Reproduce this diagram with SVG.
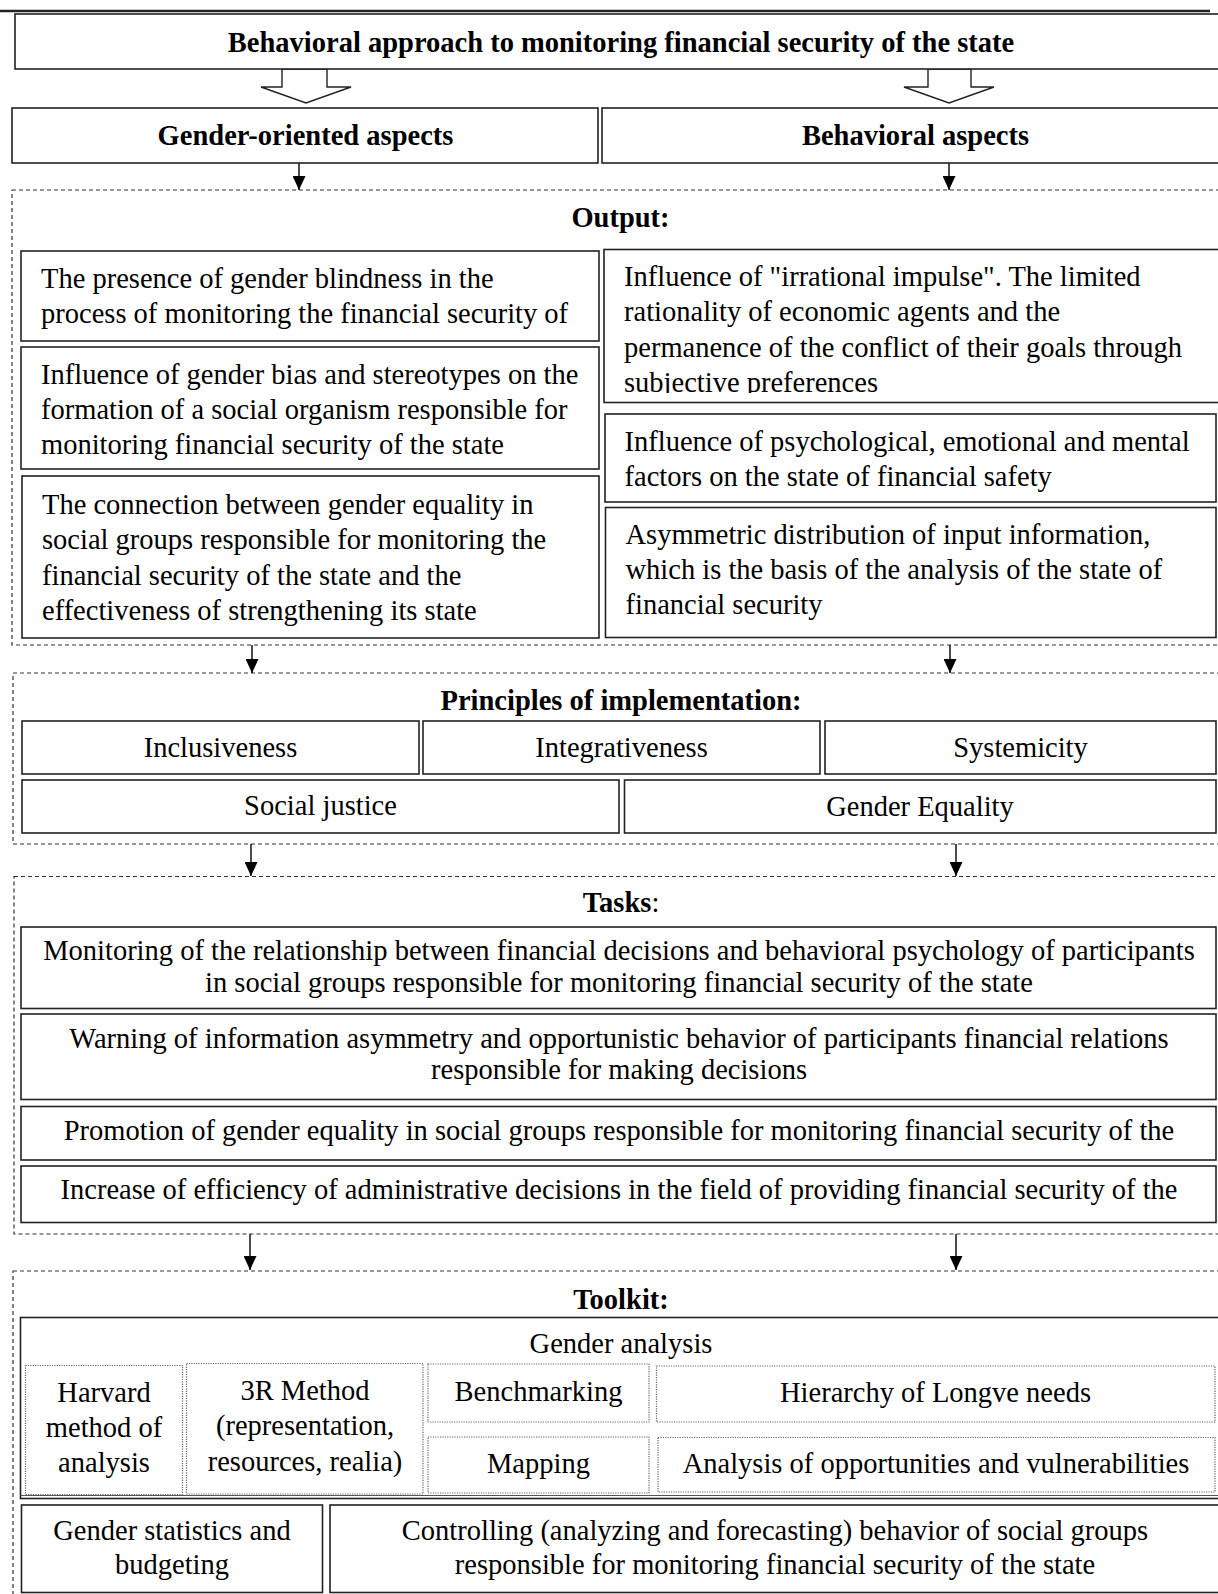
<svg xmlns="http://www.w3.org/2000/svg" width="1218" height="1594" viewBox="0 0 1218 1594">
<defs>
<style>
.box{fill:#fff;stroke:#222;stroke-width:1.6}
.dash{fill:none;stroke:#333;stroke-width:1.2;stroke-dasharray:4 3}
.dot{fill:none;stroke:#666;stroke-width:1.2;stroke-dasharray:1.2 1.2}
.t{font-family:"Liberation Serif","Times New Roman",serif;font-size:28.5px;fill:#000}
.b{font-weight:bold}
.c{text-anchor:middle}
.conn{stroke:#000;stroke-width:1.4;fill:none}
.hollow{fill:#fff;stroke:#222;stroke-width:1.4}
</style>
<marker id="ah" viewBox="0 0 10 10" refX="10" refY="5" markerWidth="14" markerHeight="13" markerUnits="userSpaceOnUse" orient="auto" preserveAspectRatio="none">
<path d="M0,0 L10,5 L0,10 z" fill="#000"/>
</marker>
<clipPath id="r1clip"><rect x="604" y="249" width="614" height="144"/></clipPath>
</defs>
<rect width="1218" height="1594" fill="#fff"/>

<g id="top-rule"><line x1="0" y1="11" x2="1210" y2="11" stroke="#222" stroke-width="2.5"/></g>

<g id="containers">
<rect class="dash" x="12" y="190" width="1215" height="455"/>
<rect class="dash" x="13" y="673" width="1215" height="171"/>
<rect class="dash" x="14" y="876.5" width="1215" height="357.5"/>
<rect class="dash" x="13" y="1271" width="1215" height="340"/>
</g>

<g id="connectors">
<polygon class="hollow" points="282,69 327,69 327,87 351,87 306,103 261,87 282,87"/>
<polygon class="hollow" points="928,69 971,69 971,87 994,87 949,103 904,87 928,87"/>
<line class="conn" x1="299" y1="163" x2="299" y2="190" marker-end="url(#ah)"/>
<line class="conn" x1="949" y1="163" x2="949" y2="190" marker-end="url(#ah)"/>
<line class="conn" x1="252" y1="645" x2="252" y2="673" marker-end="url(#ah)"/>
<line class="conn" x1="950" y1="645" x2="950" y2="673" marker-end="url(#ah)"/>
<line class="conn" x1="251" y1="844" x2="251" y2="876" marker-end="url(#ah)"/>
<line class="conn" x1="956" y1="844" x2="956" y2="876" marker-end="url(#ah)"/>
<line class="conn" x1="250" y1="1234" x2="250" y2="1270" marker-end="url(#ah)"/>
<line class="conn" x1="956" y1="1234" x2="956" y2="1270" marker-end="url(#ah)"/>
</g>

<g id="title">
<rect class="box" x="15" y="14" width="1210" height="55"/>
<text class="t b c" x="621" y="52">Behavioral approach to monitoring financial security of the state</text>
</g>

<g id="gender-aspects">
<rect class="box" x="12" y="108" width="586" height="55"/>
<text class="t b c" x="305.5" y="145">Gender-oriented aspects</text>
</g>
<g id="behavioral-aspects">
<rect class="box" x="602" y="108" width="620" height="55"/>
<text class="t b c" x="915.5" y="145">Behavioral aspects</text>
</g>

<g id="output-header"><text class="t b c" x="620.5" y="227">Output:</text></g>

<g id="out-l1">
<rect class="box" x="21" y="251" width="578" height="90"/>
<text class="t" x="41" y="288">The presence of gender blindness in the</text>
<text class="t" x="41" y="323">process of monitoring the financial security of</text>
</g>
<g id="out-l2">
<rect class="box" x="21" y="347" width="578" height="122"/>
<text class="t" x="41" y="383.5">Influence of gender bias and stereotypes on the</text>
<text class="t" x="41" y="419">formation of a social organism responsible for</text>
<text class="t" x="41" y="454">monitoring financial security of the state</text>
</g>
<g id="out-l3">
<rect class="box" x="22" y="476" width="577" height="162"/>
<text class="t" x="42" y="514">The connection between gender equality in</text>
<text class="t" x="42" y="549">social groups responsible for monitoring the</text>
<text class="t" x="42" y="584.5">financial security of the state and the</text>
<text class="t" x="42" y="619.5">effectiveness of strengthening its state</text>
</g>
<g id="out-r1">
<rect class="box" x="604" y="249.5" width="618" height="153"/>
<g clip-path="url(#r1clip)">
<text class="t" x="624" y="286">Influence of "irrational impulse". The limited</text>
<text class="t" x="624" y="321">rationality of economic agents and the</text>
<text class="t" x="624" y="356.5">permanence of the conflict of their goals through</text>
<text class="t" x="624" y="391.5">subjective preferences</text>
</g>
</g>
<g id="out-r2">
<rect class="box" x="605" y="414" width="611" height="88"/>
<text class="t" x="624.5" y="450.5">Influence of psychological, emotional and mental</text>
<text class="t" x="624.5" y="485.5">factors on the state of financial safety</text>
</g>
<g id="out-r3">
<rect class="box" x="605.5" y="507.5" width="610.5" height="130"/>
<text class="t" x="625.5" y="543.5">Asymmetric distribution of input information,</text>
<text class="t" x="625.5" y="578.5">which is the basis of the analysis of the state of</text>
<text class="t" x="625.5" y="613.5">financial security</text>
</g>

<g id="principles-header"><text class="t b c" x="621" y="710">Principles of implementation:</text></g>
<g id="pr-inclusiveness">
<rect class="box" x="22" y="721" width="397" height="53"/>
<text class="t c" x="220.5" y="757">Inclusiveness</text>
</g>
<g id="pr-integrativeness">
<rect class="box" x="423" y="721" width="397" height="53"/>
<text class="t c" x="621.5" y="757">Integrativeness</text>
</g>
<g id="pr-systemicity">
<rect class="box" x="825" y="721" width="391" height="53"/>
<text class="t c" x="1020.5" y="757">Systemicity</text>
</g>
<g id="pr-social-justice">
<rect class="box" x="22" y="780" width="597" height="53"/>
<text class="t c" x="320.5" y="815">Social justice</text>
</g>
<g id="pr-gender-equality">
<rect class="box" x="624.5" y="780" width="591.5" height="53"/>
<text class="t c" x="920" y="816">Gender Equality</text>
</g>

<g id="tasks-header"><text class="t c" x="621" y="912"><tspan class="b">Tasks</tspan>:</text></g>
<g id="task-1">
<rect class="box" x="21" y="927" width="1195" height="81.5"/>
<text class="t c" x="619" y="960">Monitoring of the relationship between financial decisions and behavioral psychology of participants</text>
<text class="t c" x="619" y="991.5">in social groups responsible for monitoring financial security of the state</text>
</g>
<g id="task-2">
<rect class="box" x="21" y="1014" width="1195" height="85.5"/>
<text class="t c" x="619" y="1047.5">Warning of information asymmetry and opportunistic behavior of participants financial relations</text>
<text class="t c" x="619" y="1079">responsible for making decisions</text>
</g>
<g id="task-3">
<rect class="box" x="21" y="1106.5" width="1195" height="53.5"/>
<text class="t c" x="619" y="1140">Promotion of gender equality in social groups responsible for monitoring financial security of the</text>
</g>
<g id="task-4">
<rect class="box" x="21" y="1166" width="1195" height="56.5"/>
<text class="t c" x="619" y="1199">Increase of efficiency of administrative decisions in the field of providing financial security of the</text>
</g>

<g id="toolkit-header"><text class="t b c" x="621" y="1308.5">Toolkit:</text></g>
<g id="gender-analysis">
<rect class="box" x="20.5" y="1317.5" width="1202" height="181"/>
<line x1="20.5" y1="1495.5" x2="1222" y2="1495.5" stroke="#555" stroke-width="1"/>
<text class="t c" x="621" y="1353">Gender analysis</text>
</g>
<g id="tk-harvard">
<rect class="dot" x="25.5" y="1365.5" width="157" height="129"/>
<text class="t c" x="104" y="1402">Harvard</text>
<text class="t c" x="104" y="1437">method of</text>
<text class="t c" x="104" y="1472">analysis</text>
</g>
<g id="tk-3r">
<rect class="dot" x="186.5" y="1363.5" width="236.5" height="130.5"/>
<text class="t c" x="305" y="1400">3R Method</text>
<text class="t c" x="305" y="1435">(representation,</text>
<text class="t c" x="305" y="1471">resources, realia)</text>
</g>
<g id="tk-benchmarking">
<rect class="dot" x="428" y="1364" width="221" height="58"/>
<text class="t c" x="538.5" y="1401">Benchmarking</text>
</g>
<g id="tk-mapping">
<rect class="dot" x="428" y="1437" width="221" height="56"/>
<text class="t c" x="538.5" y="1473">Mapping</text>
</g>
<g id="tk-hierarchy">
<rect class="dot" x="656.5" y="1366" width="558.5" height="56"/>
<text class="t c" x="935.5" y="1401.5">Hierarchy of Longve needs</text>
</g>
<g id="tk-opportunities">
<rect class="dot" x="658" y="1437.5" width="557" height="54.5"/>
<text class="t c" x="936" y="1473">Analysis of opportunities and vulnerabilities</text>
</g>
<g id="tk-statistics">
<rect class="box" x="21.5" y="1505" width="301" height="87.5"/>
<text class="t c" x="172" y="1540">Gender statistics and</text>
<text class="t c" x="172" y="1573.5">budgeting</text>
</g>
<g id="tk-controlling">
<rect class="box" x="330" y="1505" width="892" height="87.5"/>
<text class="t c" x="775" y="1540">Controlling (analyzing and forecasting) behavior of social groups</text>
<text class="t c" x="775" y="1573.5">responsible for monitoring financial security of the state</text>
</g>
</svg>
